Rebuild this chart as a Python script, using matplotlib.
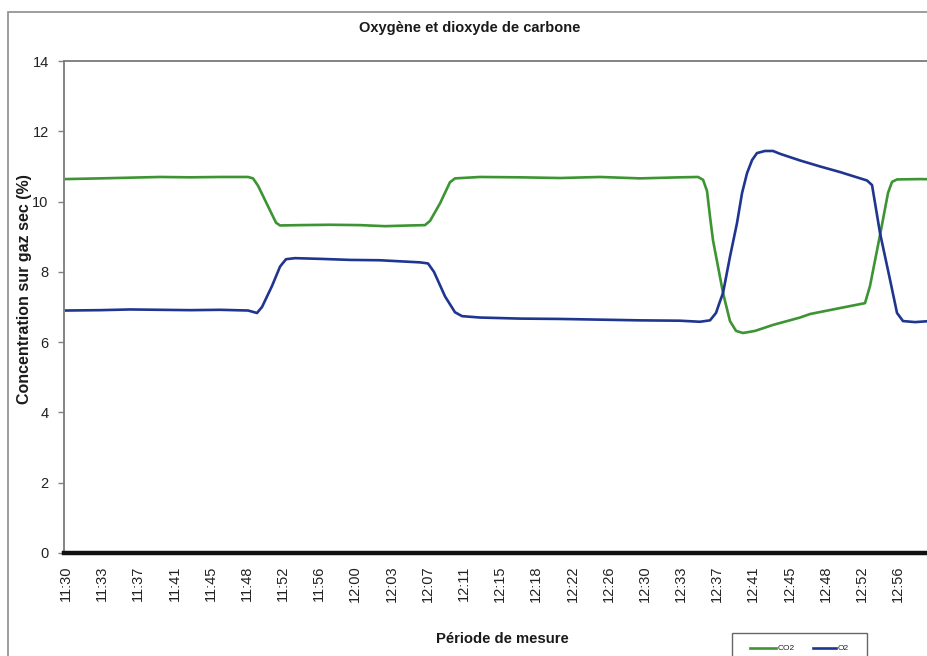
import matplotlib
matplotlib.use("Agg")
import matplotlib.pyplot as plt
from matplotlib.patches import Rectangle
from matplotlib.lines import Line2D

plt.rcParams['font.family'] = ['Liberation Sans', 'DejaVu Sans']

# Elapsed time (minutes after 11:30) and concentrations on dry gas (%)
co2_time = [0.0, 3.53, 6.64, 9.75, 12.86, 15.97, 18.87, 19.39, 19.91, 21.15, 21.77,
            22.19, 24.26, 27.37, 30.48, 33.07, 35.67, 37.22, 37.74, 38.78, 39.81,
            40.33, 42.92, 47.07, 51.22, 55.37, 59.51, 63.66, 65.53, 66.05, 66.46,
            66.77, 67.08, 68.12, 68.84, 69.47, 70.19, 71.44, 73.30, 76.10, 77.14,
            79.52, 82.84, 83.36, 84.40, 85.23, 85.64, 86.16, 88.54, 92.69]
co2_value = [10.64, 10.66, 10.68, 10.70, 10.69, 10.70, 10.70, 10.66, 10.45, 9.75, 9.40,
             9.32, 9.33, 9.34, 9.33, 9.30, 9.32, 9.33, 9.45, 9.95, 10.55,
             10.66, 10.70, 10.69, 10.67, 10.70, 10.66, 10.69, 10.70, 10.62, 10.30,
             9.57, 8.90, 7.40, 6.60, 6.32, 6.26, 6.32, 6.49, 6.70, 6.80,
             6.93, 7.11, 7.60, 9.05, 10.25, 10.56, 10.63, 10.64, 10.62]

o2_time = [0.0, 3.53, 6.64, 9.75, 12.86, 15.97, 18.87, 19.80, 20.32, 21.36, 22.19,
           22.81, 23.74, 26.34, 29.45, 32.56, 34.63, 36.70, 37.53, 38.15, 39.30,
           40.33, 41.06, 42.92, 47.07, 51.22, 55.37, 59.51, 63.66, 65.73, 66.77,
           67.39, 67.74, 68.12, 68.84, 69.57, 70.09, 70.61, 71.13, 71.64, 72.47,
           73.30, 74.02, 76.10, 78.17, 80.25, 83.05, 83.57, 84.40, 85.44, 86.16,
           86.78, 88.03, 89.58, 92.69]
o2_value = [6.90, 6.91, 6.93, 6.92, 6.91, 6.92, 6.90, 6.83, 7.00, 7.60, 8.15,
            8.36, 8.39, 8.37, 8.34, 8.33, 8.30, 8.27, 8.24, 8.00, 7.30,
            6.85, 6.74, 6.70, 6.67, 6.66, 6.64, 6.62, 6.61, 6.58, 6.62,
            6.83, 7.11, 7.40, 8.43, 9.39, 10.24, 10.81, 11.18, 11.38, 11.44,
            11.44, 11.36, 11.17, 11.00, 10.84, 10.60, 10.47, 9.10, 7.77, 6.83,
            6.60, 6.57, 6.60, 6.59]

tick_labels = ["11:30", "11:33", "11:37", "11:41", "11:45", "11:48", "11:52", "11:56",
               "12:00", "12:03", "12:07", "12:11", "12:15", "12:18", "12:22", "12:26",
               "12:30", "12:33", "12:37", "12:41", "12:45", "12:48", "12:52", "12:56",
               "13:00"]
label_step = 3.75  # minutes between axis labels

W, H = 928, 656
fig = plt.figure(figsize=(W / 100, H / 100), dpi=100)
fig.patch.set_facecolor('white')


def fx(px):
    return px / W


def fy(py):
    return 1 - py / H


# Chart area frame
fig.add_artist(Rectangle((fx(8), -0.1), 1.2, fy(12) + 0.1, transform=fig.transFigure,
                         fill=False, edgecolor='#8c8c8c', linewidth=1.2))

left, right, top, bottom = 64, 960, 61, 553
ax = fig.add_axes([fx(left), fy(bottom), (right - left) / W, (bottom - top) / H])

green = '#3c9432'
blue = '#1f3590'
ax.plot(co2_time, co2_value, color=green, lw=1.9, solid_joinstyle='round')
ax.plot(o2_time, o2_value, color=blue, lw=1.9, solid_joinstyle='round')

ax.set_xlim(-0.21, 92.69)
ax.set_ylim(0, 14)
ax.set_yticks(range(0, 15, 2))
ax.set_xticks([i * label_step for i in range(len(tick_labels))])
ax.set_xticklabels(tick_labels, rotation=90, fontsize=10.5, color='#222222')
ax.tick_params(axis='x', length=0, pad=9)
ax.tick_params(axis='y', length=4, width=1, color='#808080', pad=7, labelsize=10.5,
               labelcolor='#222222')

for side in ('top', 'left'):
    ax.spines[side].set_color('#7a7a7a')
    ax.spines[side].set_linewidth(1.3)
ax.spines['right'].set_visible(False)
ax.spines['bottom'].set_color('#111111')
ax.spines['bottom'].set_linewidth(3.2)

fig.text(fx(470), fy(28), "Oxygène et dioxyde de carbone", ha='center', va='center',
         fontsize=10.5, fontweight='bold', color='#1a1a1a')
fig.text(fx(25), fy(289), "Concentration sur gaz sec (%)", ha='center', va='center',
         rotation=90, fontsize=11.5, fontweight='bold', color='#1a1a1a')
fig.text(fx(502), fy(639), "Période de mesure", ha='center', va='center',
         fontsize=10.7, fontweight='bold', color='#1a1a1a')

# Legend box
fig.add_artist(Rectangle((fx(732), fy(662)), (867 - 732) / W, (662 - 633) / H,
                         transform=fig.transFigure, facecolor='white',
                         edgecolor='#666666', linewidth=1.0))
fig.add_artist(Line2D([fx(750), fx(776)], [fy(648), fy(648)], transform=fig.transFigure,
                      color=green, lw=1.9))
fig.text(fx(778), fy(648), "CO2", ha='left', va='center', fontsize=6, color='#222222')
fig.add_artist(Line2D([fx(813), fx(836)], [fy(648), fy(648)], transform=fig.transFigure,
                      color=blue, lw=1.9))
fig.text(fx(838), fy(648), "O2", ha='left', va='center', fontsize=6, color='#222222')

fig.savefig('out.png', dpi=100, facecolor='white')
